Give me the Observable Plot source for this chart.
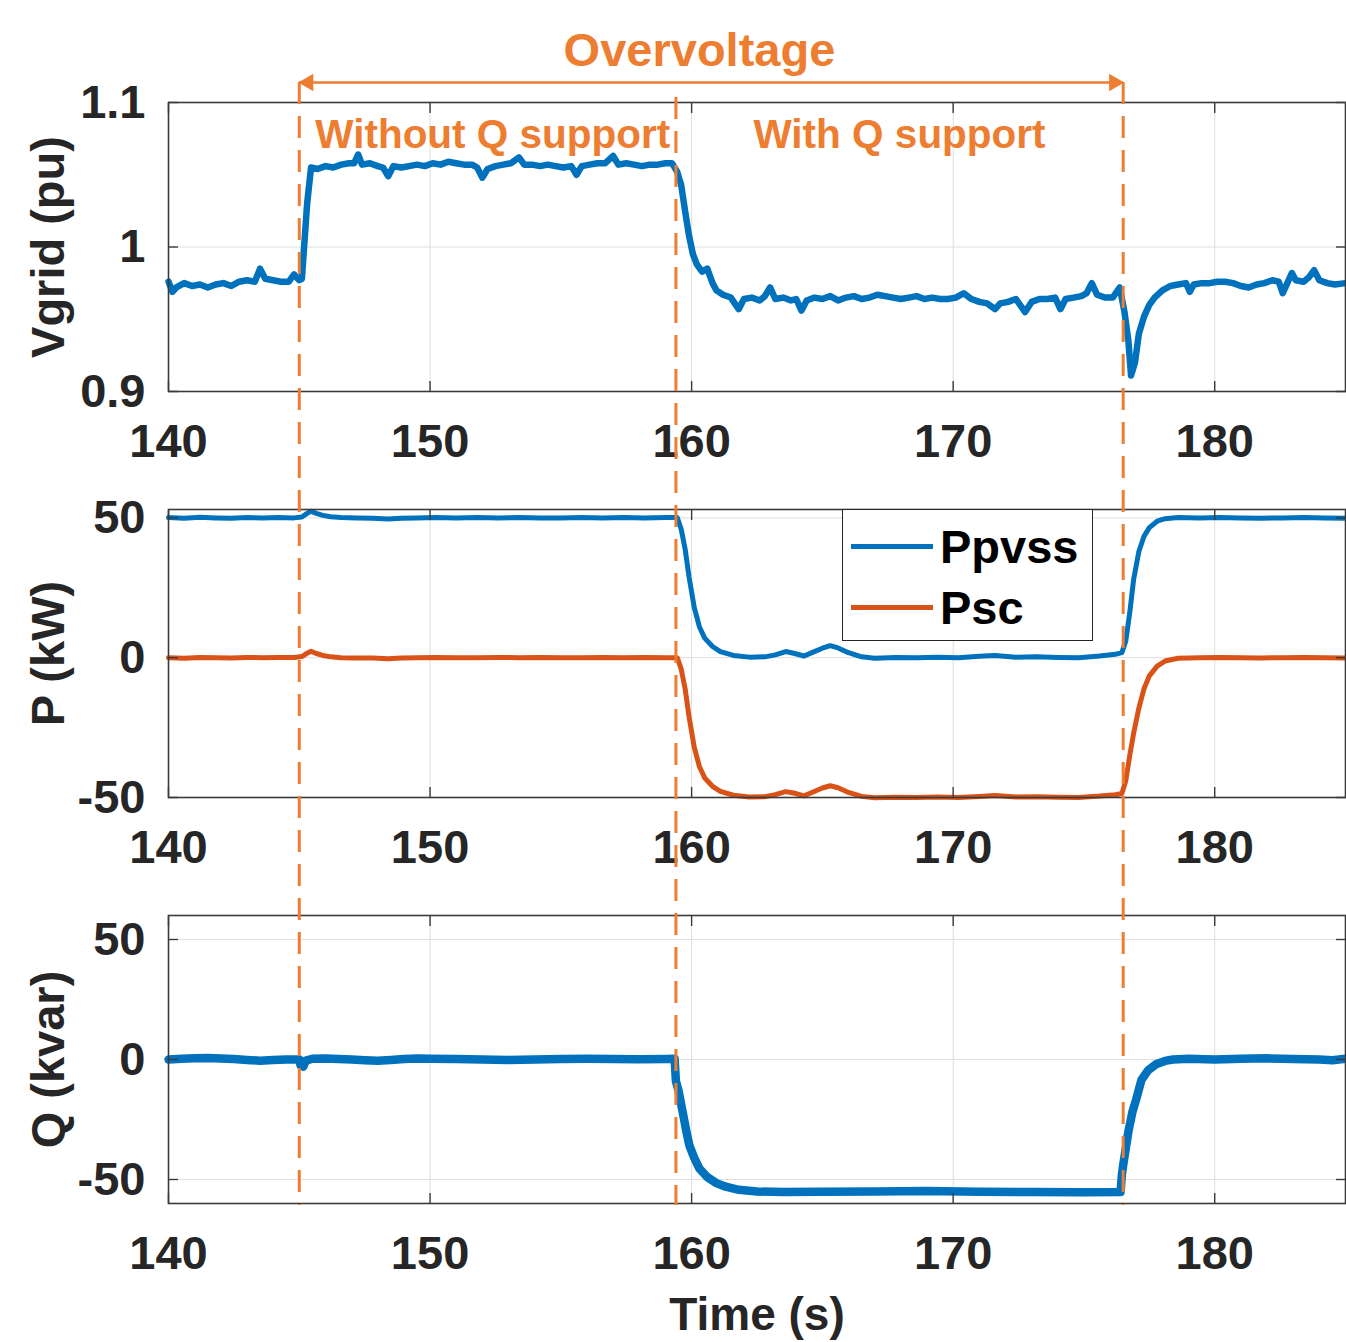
<!DOCTYPE html>
<html><head><meta charset="utf-8">
<script src="https://cdn.jsdelivr.net/npm/d3@7"></script>
<script src="https://cdn.jsdelivr.net/npm/@observablehq/plot@0.6"></script>
<style>
body{margin:0;background:#fff;}
#wrap{position:relative;width:1346px;height:1342px;overflow:hidden;background:#fff;font-family:"Liberation Sans",Arial,sans-serif;}
#wrap svg{position:absolute;left:0;}
#legend{position:absolute;left:842px;top:509px;width:251px;height:132px;border:1.3px solid #262626;background:#fff;box-sizing:border-box;}
#legend .row{position:absolute;left:0;height:50px;width:100%;}
#legend .swatch{position:absolute;left:8px;width:82px;height:5px;top:22px;}
#legend .lab{position:absolute;left:97px;top:0;line-height:50px;font-size:47px;font-weight:bold;color:#000;}
</style></head>
<body><div id="wrap"></div>
<script>
// ---------- data ----------
const xTicks = [140, 150, 160, 170, 180];
const vTicks = [0.9, 1, 1.1];
const pTicks = [-50, 0, 50];
const qTicks = [-50, 0, 50];
const events = [145, 159.4, 176.5];
const arrowEnds = [145, 176.5];
const legendItems = ["Ppvss", "Psc"];

const vgrid = [
[140.0,0.976],[140.15,0.969],[140.3,0.972],[140.6,0.975],[140.9,0.973],[141.2,0.974],[141.5,0.972],[141.8,0.974],[142.1,0.975],[142.4,0.973],[142.7,0.976],[143.0,0.977],[143.3,0.976],[143.5,0.985],[143.7,0.978],[144.0,0.977],[144.3,0.976],[144.6,0.976],[144.8,0.981],[145.0,0.977],[145.1,0.978],[145.3,1.030],[145.45,1.055],[145.7,1.054],[146.0,1.056],[146.3,1.055],[146.6,1.057],[146.9,1.058],[147.1,1.058],[147.25,1.064],[147.4,1.057],[147.7,1.058],[148.0,1.056],[148.2,1.055],[148.4,1.049],[148.6,1.056],[148.9,1.055],[149.2,1.056],[149.5,1.057],[149.8,1.056],[150.1,1.058],[150.4,1.057],[150.7,1.059],[151.0,1.058],[151.3,1.057],[151.6,1.057],[151.8,1.055],[152.0,1.048],[152.2,1.054],[152.5,1.056],[152.8,1.057],[153.1,1.058],[153.4,1.062],[153.6,1.057],[153.9,1.057],[154.2,1.056],[154.5,1.057],[154.8,1.056],[155.1,1.055],[155.4,1.056],[155.6,1.050],[155.8,1.056],[156.1,1.057],[156.4,1.058],[156.7,1.058],[157.0,1.063],[157.2,1.057],[157.5,1.058],[157.8,1.057],[158.1,1.056],[158.4,1.057],[158.7,1.057],[159.0,1.058],[159.25,1.058],[159.45,1.052],[159.6,1.043],[159.75,1.025],[159.9,1.008],[160.05,0.995],[160.2,0.988],[160.4,0.983],[160.6,0.985],[160.8,0.975],[160.95,0.970],[161.2,0.967],[161.5,0.965],[161.8,0.957],[162.0,0.964],[162.3,0.965],[162.6,0.963],[162.8,0.966],[163.0,0.972],[163.2,0.964],[163.5,0.965],[163.8,0.963],[164.0,0.964],[164.2,0.956],[164.4,0.963],[164.7,0.965],[165.0,0.964],[165.3,0.966],[165.6,0.963],[165.9,0.965],[166.2,0.966],[166.5,0.964],[166.8,0.965],[167.1,0.967],[167.4,0.966],[167.7,0.965],[168.0,0.964],[168.3,0.965],[168.6,0.966],[168.9,0.964],[169.2,0.965],[169.5,0.964],[169.8,0.964],[170.1,0.965],[170.4,0.968],[170.7,0.964],[171.0,0.962],[171.3,0.961],[171.6,0.957],[171.8,0.961],[172.1,0.962],[172.4,0.964],[172.75,0.955],[173.0,0.962],[173.3,0.964],[173.6,0.964],[173.9,0.965],[174.1,0.957],[174.3,0.964],[174.6,0.965],[174.9,0.966],[175.1,0.968],[175.3,0.975],[175.5,0.967],[175.8,0.965],[176.1,0.965],[176.37,0.972],[176.55,0.955],[176.7,0.935],[176.8,0.911],[176.95,0.920],[177.1,0.940],[177.3,0.952],[177.5,0.960],[177.7,0.965],[178.0,0.970],[178.3,0.973],[178.6,0.974],[178.9,0.975],[179.05,0.969],[179.2,0.974],[179.5,0.975],[179.8,0.975],[180.1,0.976],[180.4,0.976],[180.7,0.975],[181.0,0.973],[181.3,0.972],[181.6,0.974],[181.9,0.975],[182.2,0.977],[182.45,0.976],[182.6,0.968],[182.8,0.976],[182.95,0.982],[183.1,0.977],[183.4,0.976],[183.6,0.979],[183.8,0.984],[184.0,0.977],[184.3,0.975],[184.6,0.974],[185.0,0.975]
];

const ppvss = [
[140,50.1],[140.6,49.9],[141.2,50.2],[141.8,50.0],[142.4,49.9],[143.0,50.1],[143.6,50.0],[144.2,50.1],[144.8,50.0],[145.1,50.3],[145.3,51.6],[145.45,52.4],[145.65,51.6],[145.9,50.9],[146.2,50.4],[146.6,50.1],[147.2,50.0],[147.8,49.9],[148.4,49.6],[148.9,49.9],[149.5,50.0],[150.2,50.1],[151.0,50.0],[151.8,50.1],[152.6,50.0],[153.4,50.1],[154.2,50.0],[155.0,50.0],[155.8,50.1],[156.6,50.0],[157.4,50.1],[158.2,50.0],[159.0,50.1],[159.45,50.1],[159.6,46],[159.75,39],[159.9,29],[160.1,18],[160.3,11],[160.5,7],[160.8,4],[161.1,2.2],[161.6,0.8],[162.2,0.2],[162.8,0.3],[163.2,1.0],[163.6,2.2],[163.9,1.6],[164.3,0.6],[164.6,1.8],[165.0,3.4],[165.3,4.3],[165.6,3.5],[166.0,1.8],[166.5,0.3],[167.0,-0.2],[167.8,0.1],[168.6,0],[169.4,0.2],[170.2,0],[171.0,0.5],[171.6,0.8],[172.4,0.2],[173.2,0.3],[174.0,0.1],[174.8,0],[175.6,0.6],[176.2,1.2],[176.45,1.8],[176.6,6],[176.75,16],[176.9,28],[177.1,38],[177.3,43.5],[177.5,46.5],[177.8,48.8],[178.1,49.7],[178.6,50.1],[179.4,50.0],[180.2,50.1],[181,50.0],[181.8,49.9],[182.6,50.0],[183.4,50.1],[184.2,50.0],[185,49.9]
];

const psc = [
[140,0],[140.6,-0.2],[141.2,0.1],[141.8,0],[142.4,-0.1],[143,0.1],[143.6,0],[144.2,0.1],[144.8,0.1],[145.1,0.4],[145.3,1.6],[145.45,2.3],[145.65,1.5],[145.9,0.8],[146.2,0.3],[146.6,0],[147.2,-0.1],[147.8,-0.1],[148.4,-0.4],[148.9,-0.1],[149.5,0],[150.2,0.1],[151,0],[151.8,0],[152.6,0.1],[153.4,0],[154.2,0.1],[155,0],[155.8,0],[156.6,0.1],[157.4,0],[158.2,0.1],[159,0],[159.45,0],[159.6,-4],[159.75,-11],[159.9,-21],[160.1,-32],[160.3,-39],[160.5,-43],[160.8,-46],[161.1,-47.8],[161.6,-49.2],[162.2,-49.8],[162.8,-49.7],[163.2,-49.0],[163.6,-47.9],[163.9,-48.4],[164.3,-49.4],[164.6,-48.2],[165.0,-46.6],[165.3,-45.8],[165.6,-46.5],[166.0,-48.2],[166.5,-49.6],[167,-50.1],[167.8,-49.9],[168.6,-50],[169.4,-49.8],[170.2,-50],[171,-49.6],[171.6,-49.3],[172.4,-49.8],[173.2,-49.7],[174,-49.9],[174.8,-50],[175.6,-49.5],[176.2,-49.0],[176.45,-48.6],[176.6,-44],[176.75,-35],[176.9,-27],[177.1,-18],[177.3,-11],[177.5,-6.5],[177.8,-3],[178.1,-1.2],[178.6,-0.2],[179.4,0],[180.2,0.1],[181,0],[181.8,-0.1],[182.6,0],[183.4,0.1],[184.2,0],[185,-0.1]
];

const qvar = [
[140,0],[140.5,0.3],[141,0.5],[141.5,0.6],[142,0.4],[142.5,0.2],[143,-0.2],[143.5,-0.5],[144,-0.2],[144.5,0],[145,0],[145.05,-2.5],[145.15,-3],[145.25,-0.5],[145.5,0.3],[146,0.4],[146.5,0.2],[147,0],[147.5,-0.3],[148,-0.5],[148.5,-0.2],[149,0.2],[149.5,0.4],[150,0.3],[151,0.2],[152,0],[153,-0.2],[154,0],[155,0.2],[156,0.3],[157,0.2],[158,0.1],[159,0.2],[159.35,0.3],[159.4,-9],[159.5,-13],[159.66,-22],[159.8,-30],[159.92,-36],[160.1,-41],[160.3,-45.5],[160.6,-49],[160.95,-51.5],[161.3,-53],[161.8,-54.3],[162.5,-55],[163.5,-55.2],[165,-55.1],[167,-55],[169,-54.8],[171,-55.1],[173,-55.2],[175,-55.3],[176.4,-55.2],[176.45,-48],[176.5,-44],[176.7,-30],[176.85,-22],[177.0,-16.5],[177.2,-8.5],[177.45,-4.5],[177.75,-2],[178.1,-0.6],[178.4,0],[179,0.3],[180,0],[181,0.3],[182,0.5],[183,0.2],[184,0],[184.5,-0.3],[185,0.3]
];

const panelText = [
  {text: "Without Q support", x: 145, anchor: "start"},
  {text: "With Q support", x: 167.95, anchor: "middle"}
];

// ---------- styling ----------
const BLUE = "#0072BD", RED = "#D95319", ORANGE = "#ED7D31", INK = "#262626", FRAME = "#3a3a3a", GRID = "#dedede";
const FONT = "'Liberation Sans', Arial, sans-serif";
const W = 1346;

function panel({height, marginTop, marginBottom, yDomain, yTicks, yLabel, marks, extra = []}) {
  return Plot.plot({
    width: W, height, marginLeft: 168, marginRight: 1, marginTop, marginBottom,
    x: {domain: [140, 185], axis: null},
    y: {domain: yDomain, axis: null},
    style: {background: "transparent", overflow: "visible", fontFamily: FONT, color: INK},
    marks: [
      Plot.gridX(xTicks, {stroke: GRID, strokeOpacity: 1, strokeWidth: 1}),
      Plot.gridY(yTicks, {stroke: GRID, strokeOpacity: 1, strokeWidth: 1}),
      ...marks,
      Plot.frame({stroke: FRAME, strokeWidth: 1.6}),
      Plot.axisX(xTicks, {anchor: "bottom", tickSize: 0, tickPadding: 32, fontSize: 47, fontWeight: "bold", fill: INK, label: null, tickFormat: d => String(d)}),
      Plot.axisX(xTicks, {anchor: "bottom", tickSize: -10, stroke: FRAME, strokeWidth: 1.4, tickFormat: () => "", label: null}),
      Plot.axisX(xTicks, {anchor: "top", tickSize: -10, stroke: FRAME, strokeWidth: 1.4, tickFormat: () => "", label: null}),
      Plot.axisY(yTicks, {anchor: "left", tickSize: 0, tickPadding: 23, fontSize: 47, fontWeight: "bold", fill: INK, label: null, tickFormat: d => String(d)}),
      Plot.axisY(yTicks, {anchor: "left", tickSize: -10, stroke: FRAME, strokeWidth: 1.4, tickFormat: () => "", label: null}),
      Plot.axisY(yTicks, {anchor: "right", tickSize: -10, stroke: FRAME, strokeWidth: 1.4, tickFormat: () => "", label: null}),
      Plot.text([yLabel], {text: d => d, frameAnchor: "left", dx: -120, rotate: -90, textAnchor: "middle", lineAnchor: "middle", fontSize: 47, fontWeight: "bold", fill: INK}),
      ...extra
    ]
  });
}

const lineOpts = (color, w) => ({x: d => d[0], y: d => d[1], stroke: color, strokeWidth: w, strokeLinejoin: "round", strokeLinecap: "round"});

const p1 = panel({
  height: 480, marginTop: 102, marginBottom: 89, yDomain: [0.9, 1.1], yTicks: vTicks, yLabel: "Vgrid (pu)",
  marks: [Plot.line(vgrid, lineOpts(BLUE, 6.5))],
  extra: [
    Plot.ruleY([1.1], {x1: arrowEnds[0], x2: arrowEnds[1], dy: -20, stroke: ORANGE, strokeWidth: 2.6}),
    Plot.dot([arrowEnds[0]], {x: d => d, frameAnchor: "top", dy: -20, dx: 9, symbol: "triangle", r: 6.5, rotate: -90, fill: ORANGE, stroke: "none"}),
    Plot.dot([arrowEnds[1]], {x: d => d, frameAnchor: "top", dy: -20, dx: -9, symbol: "triangle", r: 6.5, rotate: 90, fill: ORANGE, stroke: "none"}),
    Plot.text(["Overvoltage"], {text: d => d, x: () => 160.3, frameAnchor: "top", dy: -52, textAnchor: "middle", lineAnchor: "middle", fontSize: 47, fontWeight: "bold", fill: ORANGE}),
    Plot.text(panelText.filter(d => d.anchor === "start"), {text: "text", x: "x", frameAnchor: "top", dy: 33, dx: 16, textAnchor: "start", lineAnchor: "middle", fontSize: 40.5, fontWeight: "bold", fill: ORANGE}),
    Plot.text(panelText.filter(d => d.anchor === "middle"), {text: "text", x: "x", frameAnchor: "top", dy: 33, textAnchor: "middle", lineAnchor: "middle", fontSize: 40.5, fontWeight: "bold", fill: ORANGE})
  ]
});

const p2 = panel({
  height: 405, marginTop: 29, marginBottom: 88, yDomain: [-50, 53], yTicks: pTicks, yLabel: "P (kW)",
  marks: [Plot.line(ppvss, lineOpts(BLUE, 5)), Plot.line(psc, lineOpts(RED, 5))]
});

const p3 = panel({
  height: 457, marginTop: 30, marginBottom: 139, yDomain: [-60, 60], yTicks: qTicks, yLabel: "Q (kvar)",
  marks: [Plot.line(qvar, lineOpts(BLUE, 8.5))],
  extra: [Plot.text(["Time (s)"], {text: d => d, frameAnchor: "bottom", dy: 112, textAnchor: "middle", lineAnchor: "middle", fontSize: 46, fontWeight: "bold", fill: INK})]
});

const overlay = Plot.plot({
  width: W, height: 1342, marginLeft: 168, marginRight: 1, marginTop: 82, marginBottom: 137,
  x: {domain: [140, 185], axis: null}, y: {domain: [0, 1], axis: null},
  style: {background: "transparent", overflow: "visible"},
  marks: [
    Plot.ruleX(events.filter(e => arrowEnds.includes(e)), {x: d => d, stroke: ORANGE, strokeWidth: 3, strokeDasharray: "22,12"}),
    Plot.ruleX(events.filter(e => !arrowEnds.includes(e)), {x: d => d, insetTop: 15, stroke: ORANGE, strokeWidth: 3, strokeDasharray: "22,12"})
  ]
});

const wrap = document.getElementById("wrap");
[[p1, 0], [p2, 480], [p3, 885]].forEach(([el, top]) => { el.style.top = top + "px"; wrap.appendChild(el); });

const legend = document.createElement("div");
legend.id = "legend";
const colors = {Ppvss: BLUE, Psc: RED};
legendItems.forEach((name, i) => {
  const row = document.createElement("div");
  row.className = "row";
  row.style.top = (12 + i * 61) + "px";
  const sw = document.createElement("div");
  sw.className = "swatch"; sw.style.background = colors[name];
  const lab = document.createElement("div");
  lab.className = "lab"; lab.textContent = name;
  row.appendChild(sw); row.appendChild(lab);
  legend.appendChild(row);
});
wrap.appendChild(legend);

overlay.style.top = "0px";
overlay.style.pointerEvents = "none";
wrap.appendChild(overlay);
</script>
</body></html>
